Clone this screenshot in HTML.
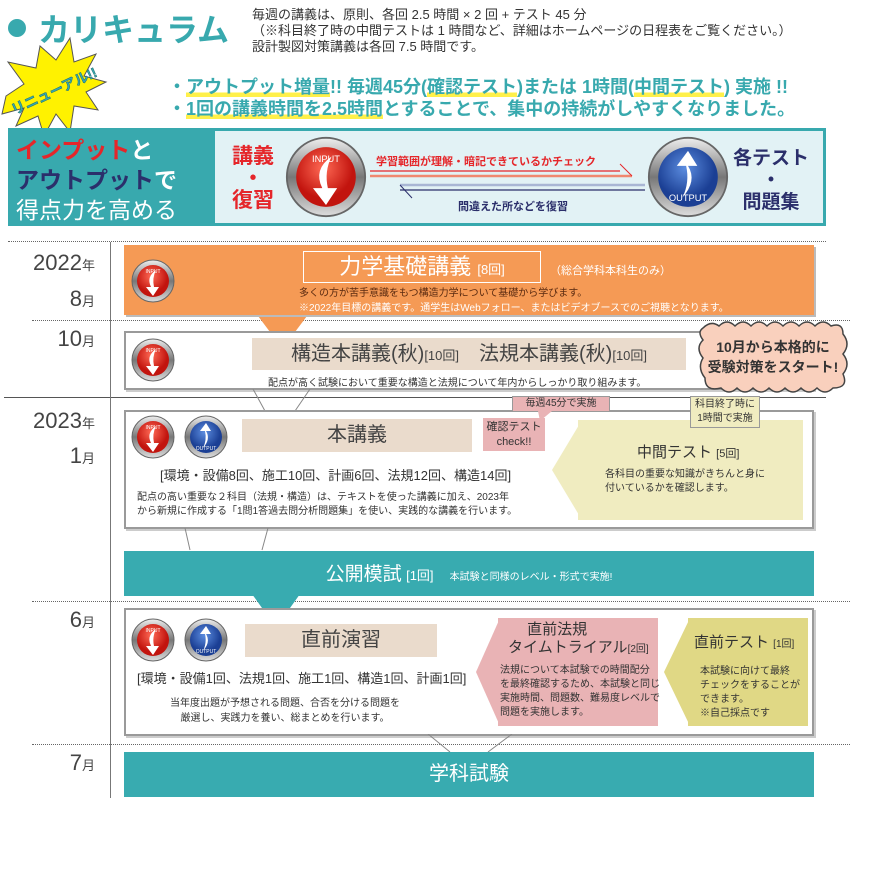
<!DOCTYPE html>
<html><head><meta charset="utf-8"><style>
*{margin:0;padding:0;box-sizing:border-box}
body{width:886px;height:878px;background:#fff;position:relative;overflow:hidden;font-family:"Liberation Sans","Noto Sans CJK JP",sans-serif;color:#333}
.a{position:absolute;white-space:nowrap}
.teal{color:#38a9ae}
.ul{background:linear-gradient(transparent 78%,#fff04a 78%)}
.box{position:absolute;background:#fff;border:2px solid #9a9a9a;box-shadow:2px 2px 0 #ccc}
.tan{position:absolute;background:#eadbcc;color:#444;text-align:center}
.dot{position:absolute;left:8px;width:818px;border-top:1px dotted #666}
.ym{position:absolute;color:#444;font-size:22px;text-align:right;width:90px;left:5px}
.ym small{font-size:13px}
.bar{position:absolute;left:124px;width:690px;background:#38abb0;color:#fff;text-align:center}
.ico{position:absolute;width:44px;height:44px}
</style></head><body>
<svg width="0" height="0" style="position:absolute"><defs>
<radialGradient id="rg" cx="45%" cy="35%"><stop offset="0" stop-color="#ff6a55"/><stop offset="1" stop-color="#c2140e"/></radialGradient>
<radialGradient id="bg" cx="45%" cy="35%"><stop offset="0" stop-color="#5c8de0"/><stop offset="1" stop-color="#1b3f94"/></radialGradient>
<linearGradient id="gr" x1="0" y1="0" x2="0" y2="1"><stop offset="0" stop-color="#eee"/><stop offset=".5" stop-color="#777"/><stop offset="1" stop-color="#ddd"/></linearGradient>
<g id="in"><circle cx="22" cy="22" r="21" fill="url(#gr)" stroke="#666"/><circle cx="22" cy="22" r="16" fill="url(#rg)"/><path d="M25 11 Q15 18 20 28 L15 28 L22 37 L28 28 L23 28 Q21 19 25 11Z" fill="#fff"/><text x="22" y="14" font-size="5" fill="#fff" text-anchor="middle">INPUT</text></g>
<g id="out"><circle cx="22" cy="22" r="21" fill="url(#gr)" stroke="#666"/><circle cx="22" cy="22" r="16" fill="url(#bg)"/><path d="M19 33 Q27 24 22 16 L27 16 L22 8 L16 16 L21 16 Q23 25 19 33Z" fill="#fff"/><text x="22" y="35" font-size="5" fill="#fff" text-anchor="middle">OUTPUT</text></g>
</defs></svg>

<!-- header -->
<div class="a" style="left:8px;top:19px;width:18px;height:18px;border-radius:50%;background:#38a9ae"></div>
<div class="a teal" style="left:38px;top:5px;font-size:32px;font-weight:bold">カリキュラム</div>
<div class="a" style="left:252px;top:7px;font-size:13px;line-height:16px;color:#333">毎週の講義は、原則、各回 2.5 時間 × 2 回 + テスト 45 分<br>（※科目終了時の中間テストは 1 時間など、詳細はホームページの日程表をご覧ください。）<br>設計製図対策講義は各回 7.5 時間です。</div>
<svg class="a" style="left:0;top:34px" width="110" height="104" viewBox="0 0 110 104"><polygon points="6,62 24,50 8,28 36,34 40,12 56,26 70,4 74,28 96,20 84,42 106,48 86,58 98,76 74,72 70,98 56,80 44,102 38,82 16,92 24,74 2,80" fill="#fff200" stroke="#555" stroke-width="1"/><text x="54" y="62" font-size="14" font-weight="bold" fill="#38a9ae" stroke="#1c6f73" stroke-width=".5" text-anchor="middle" transform="rotate(-25 54 57)">リニューアル!!</text></svg>
<div class="a teal" style="left:168px;top:73px;font-size:18px;font-weight:bold">・<span class="ul">アウトプット増量</span>!! 毎週45分(<span class="ul">確認テスト</span>)または 1時間(<span class="ul">中間テスト</span>) 実施 !!</div>
<div class="a teal" style="left:168px;top:95px;font-size:18px;font-weight:bold">・<span class="ul">1回の講義時間を2.5時間</span>とすることで、集中の持続がしやすくなりました。</div>

<!-- banner -->
<div class="a" style="left:8px;top:128px;width:818px;height:98px;background:#e2f2f5;border:3px solid #38a9ae"></div>
<div class="a" style="left:8px;top:128px;width:207px;height:98px;background:#38a9ae"></div>
<div class="a" style="left:16px;top:135px;font-size:23px;font-weight:bold;line-height:30px;color:#fff"><span style="color:#e5262a">インプット</span>と<br><span style="color:#2b2f6b">アウトプット</span>で<br><span style="font-weight:normal">得点力を高める</span></div>
<div class="a" style="left:232px;top:146px;font-size:21px;font-weight:bold;color:#e5262a;line-height:22px;text-align:center">講義<br>・<br>復習</div>
<svg class="a" style="left:285px;top:136px" width="82" height="82" viewBox="0 0 44 44"><use href="#in"/></svg>
<svg class="a" style="left:647px;top:136px" width="82" height="82" viewBox="0 0 44 44"><use href="#out"/></svg>
<div class="a" style="left:376px;top:153px;font-size:11px;font-weight:bold;color:#e5262a">学習範囲が理解・暗記できているかチェック</div>
<svg class="a" style="left:370px;top:160px" width="280" height="45"><line x1="0" y1="11" x2="250" y2="11" stroke="#e5262a" stroke-width="1.3"/><line x1="0" y1="16" x2="262" y2="16" stroke="#f08870" stroke-width="2.5"/><line x1="250" y1="4" x2="262" y2="16" stroke="#e5262a"/><line x1="30" y1="25" x2="275" y2="25" stroke="#a9b6d4" stroke-width="2.5"/><line x1="30" y1="30" x2="275" y2="30" stroke="#2b2f6b" stroke-width="1.3"/><line x1="30" y1="25" x2="42" y2="38" stroke="#2b2f6b"/></svg>
<div class="a" style="left:458px;top:198px;font-size:11px;font-weight:bold;color:#2b2f6b">間違えた所などを復習</div>
<div class="a" style="left:733px;top:148px;font-size:19px;font-weight:bold;color:#2b2f6b;line-height:22px;text-align:center">各テスト<br>・<br>問題集</div>

<!-- timeline -->
<div class="dot" style="top:241px"></div>
<div class="dot" style="top:320px;left:32px"></div>
<div class="a" style="left:4px;top:397px;width:822px;border-top:1px solid #555"></div>
<div class="dot" style="top:601px;left:32px"></div>
<div class="dot" style="top:744px;left:32px"></div>
<div class="a" style="left:110px;top:242px;height:556px;border-left:1px solid #777"></div>
<div class="ym" style="top:250px">2022<small>年</small></div>
<div class="ym" style="top:286px">8<small>月</small></div>
<div class="ym" style="top:326px">10<small>月</small></div>
<div class="ym" style="top:408px">2023<small>年</small></div>
<div class="ym" style="top:443px">1<small>月</small></div>
<div class="ym" style="top:607px">6<small>月</small></div>
<div class="ym" style="top:750px">7<small>月</small></div>

<!-- orange -->
<svg class="a" style="left:255px;top:312px" width="60" height="22"><polygon points="0,0 55,0 40,20 15,20" fill="#f59a55"/></svg>
<div class="a" style="left:124px;top:245px;width:690px;height:70px;background:#f59a55;box-shadow:2px 2px 0 #bbb"></div>
<svg class="ico" style="left:131px;top:259px"><use href="#in"/></svg>
<div class="a" style="left:303px;top:251px;width:238px;height:32px;border:1px solid #fff;color:#fff;font-size:22px;text-align:center;line-height:30px">力学基礎講義 <span style="font-size:13px">[8回]</span></div>
<div class="a" style="left:550px;top:262px;font-size:11px;color:#fff">（総合学科本科生のみ）</div>
<div class="a" style="left:299px;top:286px;font-size:10px;line-height:15px;color:#5a2a10">多くの方が苦手意識をもつ構造力学について基礎から学びます。<br><span style="color:#fff">※2022年目標の講義です。通学生はWebフォロー、またはビデオブースでのご視聴となります。</span></div>

<!-- box2 -->
<div class="box" style="left:124px;top:331px;width:690px;height:59px"></div>
<svg class="ico" style="left:131px;top:338px"><use href="#in"/></svg>
<div class="tan" style="left:252px;top:338px;width:434px;height:32px;font-size:20px;line-height:32px">構造本講義(秋)<span style="font-size:13px">[10回]</span>　法規本講義(秋)<span style="font-size:13px">[10回]</span></div>
<div class="a" style="left:268px;top:374px;font-size:10px;color:#333">配点が高く試験において重要な構造と法規について年内からしっかり取り組みます。</div>
<svg class="a" style="left:693px;top:318px" width="160" height="80" viewBox="0 0 160 80"><path d="M10 10 Q18 2 26 8 Q34 0 42 8 Q50 0 58 8 Q66 0 74 8 Q82 0 90 8 Q98 0 106 8 Q114 0 122 8 Q130 0 138 8 Q150 4 150 16 Q158 26 150 36 Q158 46 150 56 Q156 70 140 70 Q132 78 124 70 Q116 78 108 70 Q100 78 92 70 Q84 78 76 70 Q68 78 60 70 Q52 78 44 70 Q36 78 28 70 Q12 74 12 60 Q4 50 10 40 Q2 30 10 22 Q4 14 10 10Z" fill="#f9d0bd" stroke="#444" stroke-width="1.5"/><text x="80" y="34" font-size="14" font-weight="bold" fill="#333" text-anchor="middle">10月から本格的に</text><text x="80" y="54" font-size="14" font-weight="bold" fill="#333" text-anchor="middle">受験対策をスタート!</text></svg>
<svg class="a" style="left:250px;top:389px" width="70" height="24"><path d="M3 0 L15 22 M60 0 L45 22" stroke="#888" fill="none"/></svg>

<!-- box3 -->
<div class="box" style="left:124px;top:410px;width:690px;height:119px"></div>
<svg class="ico" style="left:131px;top:415px"><use href="#in"/></svg>
<svg class="ico" style="left:184px;top:415px"><use href="#out"/></svg>
<div class="tan" style="left:242px;top:419px;width:230px;height:33px;font-size:20px;line-height:33px">本講義</div>
<div class="a" style="left:483px;top:418px;width:62px;height:33px;background:#e9b3b5;font-size:11px;text-align:center;line-height:15px;padding-top:2px">確認テスト<br>check!!</div>
<div class="a" style="left:512px;top:396px;width:98px;height:16px;background:#e9b3b5;border:1px solid #999;font-size:10px;text-align:center;line-height:14px">毎週45分で実施</div>
<svg class="a" style="left:538px;top:411px" width="20" height="12"><polygon points="0,0 14,0 2,10" fill="#e9b3b5"/></svg>
<svg class="a" style="left:552px;top:420px" width="30" height="100"><polygon points="30,0 30,100 0,50" fill="#f0ecc0"/></svg>
<div class="a" style="left:578px;top:420px;width:225px;height:100px;background:#f0ecc0"></div>
<div class="a" style="left:637px;top:441px;font-size:15px;color:#333">中間テスト <span style="font-size:11px">[5回]</span></div>
<div class="a" style="left:605px;top:468px;font-size:10px;line-height:14px;color:#333">各科目の重要な知識がきちんと身に<br>付いているかを確認します。</div>
<div class="a" style="left:690px;top:396px;width:70px;height:32px;background:#f0ecc0;border:1px solid #999;font-size:10px;text-align:center;line-height:14px;padding-top:1px">科目終了時に<br>1時間で実施</div>
<div class="a" style="left:160px;top:465px;font-size:13px;color:#333">[環境・設備8回、施工10回、計画6回、法規12回、構造14回]</div>
<div class="a" style="left:137px;top:491px;font-size:10px;line-height:14px;color:#333">配点の高い重要な２科目（法規・構造）は、テキストを使った講義に加え、2023年<br>から新規に作成する「1問1答過去問分析問題集」を使い、実践的な講義を行います。</div>
<svg class="a" style="left:180px;top:528px" width="100" height="25"><path d="M5 0 L10 22 M88 0 L82 22" stroke="#888" fill="none"/></svg>

<!-- 公開模試 -->
<svg class="a" style="left:252px;top:594px" width="50" height="16"><polygon points="0,0 48,0 38,14 10,14" fill="#38abb0"/></svg>
<div class="bar" style="top:551px;height:45px;line-height:48px"><span style="font-size:19px">公開模試</span> <span style="font-size:13px">[1回]</span>　<span style="font-size:10px">本試験と同様のレベル・形式で実施!</span></div>

<!-- box4 -->
<div class="box" style="left:124px;top:608px;width:690px;height:128px"></div>
<svg class="ico" style="left:131px;top:618px"><use href="#in"/></svg>
<svg class="ico" style="left:184px;top:618px"><use href="#out"/></svg>
<div class="tan" style="left:245px;top:624px;width:192px;height:33px;font-size:20px;line-height:33px">直前演習</div>
<div class="a" style="left:137px;top:668px;font-size:13px;color:#333">[環境・設備1回、法規1回、施工1回、構造1回、計画1回]</div>
<div class="a" style="left:170px;top:696px;font-size:10px;line-height:15px;color:#333;text-align:center">当年度出題が予想される問題、合否を分ける問題を<br>厳選し、実践力を養い、総まとめを行います。</div>
<svg class="a" style="left:476px;top:618px" width="24" height="108"><polygon points="24,0 24,108 0,54" fill="#e9b3b5"/></svg>
<div class="a" style="left:498px;top:618px;width:160px;height:108px;background:#e9b3b5"></div>
<div class="a" style="left:508px;top:621px;font-size:15px;line-height:18px;color:#333">　 直前法規<br>タイムトライアル<span style="font-size:10px">[2回]</span></div>
<div class="a" style="left:500px;top:664px;font-size:10px;line-height:14px;color:#333">法規について本試験での時間配分<br>を最終確認するため、本試験と同じ<br>実施時間、問題数、難易度レベルで<br>問題を実施します。</div>
<svg class="a" style="left:664px;top:618px" width="26" height="108"><polygon points="26,0 26,108 0,54" fill="#e0d885"/></svg>
<div class="a" style="left:688px;top:618px;width:120px;height:108px;background:#e0d885"></div>
<div class="a" style="left:694px;top:631px;font-size:15px;color:#333">直前テスト <span style="font-size:10px">[1回]</span></div>
<div class="a" style="left:700px;top:665px;font-size:10px;line-height:14px;color:#333">本試験に向けて最終<br>チェックをすることが<br>できます。<br>※自己採点です</div>
<svg class="a" style="left:420px;top:734px" width="100" height="20"><path d="M8 0 L30 18 M92 0 L68 18" stroke="#888" fill="none"/></svg>

<div class="bar" style="top:752px;height:45px;line-height:45px;font-size:20px">学科試験</div>
</body></html>
